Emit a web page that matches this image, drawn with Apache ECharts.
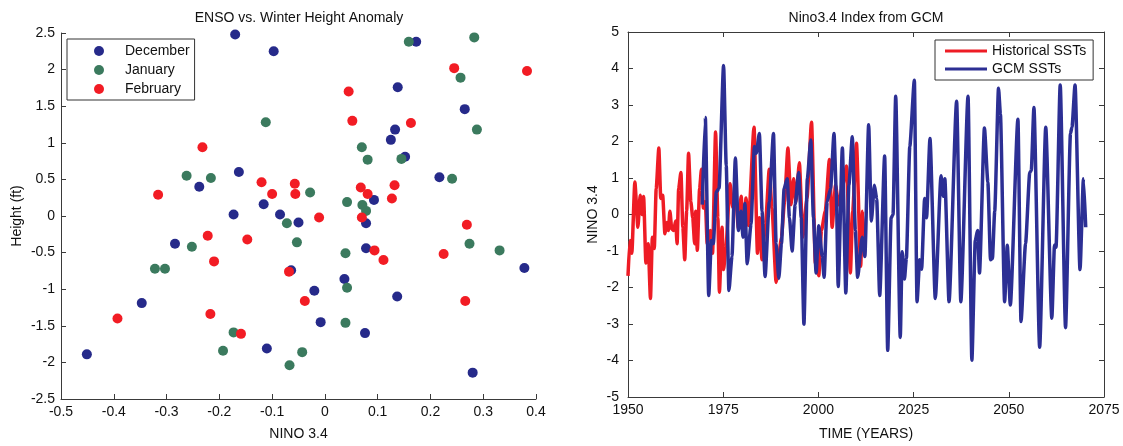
<!DOCTYPE html>
<html>
<head>
<meta charset="utf-8">
<script src="https://cdn.jsdelivr.net/npm/echarts@6/dist/echarts.min.js"></script>
<style>
html,body{margin:0;padding:0;background:#fff;}
#chart{width:1123px;height:446px;}
</style>
</head>
<body>
<div id="chart"></div>
<script>
// ---- Left panel: ENSO vs. winter height anomaly ----
var decX = [-0.17,-0.097,-0.163,-0.238,-0.116,-0.173,-0.085,-0.05,-0.284,-0.064,-0.347,-0.451,-0.11,0.078,0.078,0.378,-0.02,0.037,0.137,-0.008,0.076,0.28,0.173,0.138,0.265,0.133,0.125,0.152,0.217,0.093];
var decY = [2.48,2.25,0.60,0.40,0.16,0.02,0.02,-0.09,-0.38,-0.74,-1.19,-1.89,-1.81,-0.10,-0.44,-0.71,-1.02,-0.86,-1.10,-1.45,-1.60,-2.14,2.38,1.76,1.46,1.18,1.04,0.81,0.53,0.22];
var janX = [-0.112,-0.262,-0.216,-0.028,-0.072,-0.252,-0.053,-0.322,-0.303,-0.173,-0.193,-0.043,-0.067,0.078,0.039,0.274,0.331,0.042,0.039,0.159,0.283,0.257,0.288,0.07,0.081,0.145,0.241,0.042,0.071];
var janY = [1.28,0.55,0.52,0.32,-0.10,-0.42,-0.36,-0.72,-0.72,-1.59,-1.84,-1.86,-2.04,0.07,-0.51,-0.38,-0.47,-0.98,-1.46,2.38,2.44,1.89,1.18,0.94,0.77,0.78,0.51,0.19,0.15];
var febX = [-0.232,-0.316,-0.12,-0.10,-0.057,-0.056,-0.222,-0.147,-0.21,-0.068,-0.393,-0.217,-0.038,-0.159,-0.011,0.07,0.269,0.094,0.111,0.225,0.266,0.245,0.383,0.045,0.052,0.163,0.068,0.132,0.081,0.127];
var febY = [0.94,0.29,0.46,0.30,0.44,0.30,-0.27,-0.32,-0.62,-0.76,-1.40,-1.34,-1.16,-1.61,-0.02,-0.02,-0.12,-0.47,-0.60,-0.52,-1.16,2.02,1.98,1.70,1.30,1.27,0.39,0.42,0.30,0.24];
var monthNames = ['December','January','February'];

// ---- Right panel: Nino3.4 index ----
var histYears = [1950.0,1950.5,1951.0,1951.8,1952.6,1953.2,1953.7,1954.1,1954.7,1955.3,1955.9,1956.4,1956.9,1957.4,1958.1,1958.6,1959.1,1959.7,1960.2,1960.6,1961.0,1961.5,1962.0,1962.5,1962.9,1963.3,1963.9,1964.4,1964.9,1965.4,1965.9,1966.5,1967.0,1967.5,1967.8,1968.2,1968.8,1969.3,1969.8,1970.3,1970.8,1971.6,1972.2,1973.0,1973.6,1974.0,1974.7,1975.1,1975.7,1976.8,1977.5,1978.2,1979.0,1979.7,1980.4,1981.0,1981.6,1983.1,1984.0,1984.5,1985.2,1986.1,1987.1,1987.8,1988.9,1990.3,1991.1,1992.0,1992.8,1993.5,1994.1,1995.0,1995.9,1997.0,1998.2,1999.2,2000.1,2000.8,2001.8,2002.9,2003.6,2004.5,2005.3,2006.4,2007.4,2008.4,2009.0,2010.0,2011.1,2011.6,2012.2];
var histVals = [-1.68,-0.71,-1.06,0.89,-0.35,0.53,0.0,0.49,-1.33,-0.8,-2.30,-0.62,-0.93,0.71,1.82,0.44,0.53,-0.53,-0.22,-0.44,0.09,-0.40,-0.44,-0.18,-0.80,0.71,1.15,-0.35,-1.24,0.09,1.68,0.35,-0.09,-0.80,0.09,-0.98,0.71,1.24,0.18,0.35,-0.80,-0.44,-1.06,2.26,-0.09,-2.13,-0.35,-1.51,-0.9,0.84,0.2,0.6,-0.4,0.5,-0.6,0.45,-0.3,2.39,-1.06,-0.09,-1.24,-0.27,1.24,0.18,-1.86,-0.62,0.35,1.82,0.27,0.98,0.35,1.42,-0.62,0.44,2.53,-1.33,-1.68,-0.44,0.09,1.51,-0.35,0.80,0.27,0.80,1.33,-1.60,0.09,1.95,-1.42,0.09,-0.98];
var gcmYears = [1969.5,1970.3,1971.2,1971.9,1972.4,1973.2,1973.9,1975.1,1975.8,1976.5,1977.3,1978.2,1979.0,1979.7,1980.2,1980.7,1981.3,1982.3,1983.2,1983.7,1984.5,1985.2,1986.0,1987.1,1988.2,1988.9,1989.6,1990.3,1991.0,1991.8,1992.4,1993.1,1993.9,1994.8,1995.5,1996.2,1997.1,1998.0,1998.7,1999.4,2000.1,2001.0,2001.5,2002.3,2003.2,2004.1,2004.7,2005.2,2006.3,2007.2,2008.0,2008.9,2009.7,2010.3,2011.5,2012.2,2013.2,2013.9,2014.7,2015.3,2016.1,2017.4,2018.2,2019.1,2019.6,2020.3,2021.5,2022.0,2022.6,2023.1,2024.0,2025.2,2025.9,2026.6,2027.1,2027.9,2028.4,2029.3,2030.7,2032.2,2032.8,2033.2,2034.3,2036.3,2037.4,2039.3,2040.3,2041.2,2041.8,2042.3,2043.6,2044.5,2045.2,2045.7,2046.3,2047.3,2047.8,2048.9,2049.6,2050.4,2052.4,2053.2,2054.4,2055.5,2055.9,2056.6,2058.1,2059.7,2061.3,2062.0,2062.4,2063.5,2064.9,2066.2,2066.6,2067.4,2068.7,2069.6,2070.2];
var gcmVals = [0.27,2.66,-2.22,-0.71,-0.80,0.62,0.71,4.08,1.33,-2.08,-1.15,1.55,-0.44,0.09,-0.62,0.3,-1.35,-0.27,1.86,1.68,2.22,0.09,-1.70,0.35,2.22,-0.80,-1.75,-0.80,0.71,0.98,-0.09,-1.0,0.27,1.15,-0.09,-3.01,0.98,2.04,-0.09,-1.60,-0.31,-1.15,-1.72,0.35,0.71,2.22,0.62,-1.97,1.82,-2.15,0.80,2.13,-0.44,-1.72,-0.62,-1.15,2.46,-0.18,0.80,0.44,-2.22,1.60,-3.72,-0.09,0.0,3.24,-3.37,-1.02,-1.77,-1.2,1.86,3.68,-2.39,-1.24,-1.5,0.44,-0.09,2.08,-2.30,1.06,0.5,0.98,-2.39,3.10,-2.39,3.24,-3.99,-0.71,-0.44,-1.60,2.37,0.89,-1.24,-1.2,0.09,3.46,2.75,-2.39,-0.84,-2.48,2.61,-2.93,-0.80,1.15,1.2,2.93,-3.64,2.39,-2.84,-0.84,-0.9,3.55,-3.10,2.22,2.4,3.55,-1.51,0.98,-0.35];
var lineNames = ['Historical SSTs','GCM SSTs'];

function zip(a, b) { return a.map(function (v, i) { return [v, b[i]]; }); }

var FONT = '"Liberation Sans", Arial, Helvetica, sans-serif';
var AX = '#3a3a3a';
function fmt1(v) { return String(Math.round(v * 10) / 10); }
function fmtInt(v) { return String(Math.round(v)); }

function baseAxis(extra) {
  var o = {
    type: 'value',
    axisLine: { show: true, onZero: false, lineStyle: { color: AX, width: 1 } },
    axisTick: { show: true, inside: true, length: 5, lineStyle: { color: AX } },
    axisLabel: { show: true, color: '#111', fontSize: 14, fontFamily: FONT, margin: 6 },
    splitLine: { show: false },
    nameTextStyle: { color: '#111', fontSize: 14, fontFamily: FONT },
    nameLocation: 'middle'
  };
  for (var k in extra) o[k] = extra[k];
  return o;
}
function lbl(fmt, margin) {
  return { show: true, color: '#111', fontSize: 14, fontFamily: FONT, margin: margin, formatter: fmt };
}

var chart = echarts.init(document.getElementById('chart'), null, { renderer: 'canvas' });
chart.setOption({
  backgroundColor: '#fff',
  animation: false,
  textStyle: { fontFamily: FONT },
  title: [
    { text: 'ENSO vs. Winter Height Anomaly', left: 294, top: 6, textAlign: 'center',
      textStyle: { fontSize: 14, fontWeight: 'normal', color: '#111', fontFamily: FONT } },
    { text: 'Nino3.4 Index from GCM', left: 861, top: 6, textAlign: 'center',
      textStyle: { fontSize: 14, fontWeight: 'normal', color: '#111', fontFamily: FONT } }
  ],
  grid: [
    { left: 61, top: 33, width: 475, height: 375 },
    { left: 628, top: 32, width: 476, height: 376, show: false }
  ],
  legend: [
    { data: monthNames, orient: 'vertical', left: 67, top: 39, icon: 'circle',
      itemWidth: 10, itemHeight: 10, itemGap: 5, padding: [5, 5, 4, 27],
      borderColor: '#333', borderWidth: 1, backgroundColor: '#fff',
      textStyle: { fontSize: 14, color: '#111', fontFamily: FONT, padding: [0, 0, 0, 16] } },
    { data: lineNames, orient: 'vertical', left: 935, top: 40, icon: 'rect',
      itemWidth: 42, itemHeight: 3, itemGap: 4, padding: [4, 7, 4, 10],
      borderColor: '#333', borderWidth: 1, backgroundColor: '#fff',
      textStyle: { fontSize: 14, color: '#111', fontFamily: FONT } }
  ],
  xAxis: [
    baseAxis({ gridIndex: 0, min: -0.5, max: 0.4, interval: 0.1, name: 'NINO 3.4', nameGap: 28,
      axisLabel: lbl(fmt1, 6) }),
    baseAxis({ gridIndex: 1, min: 1950, max: 2075, interval: 25, name: 'TIME (YEARS)', nameGap: 30,
      axisLabel: lbl(fmtInt, 6) }),
    baseAxis({ gridIndex: 1, min: 1950, max: 2075, interval: 25, position: 'top', axisLabel: { show: false } })
  ],
  yAxis: [
    baseAxis({ gridIndex: 0, min: -2.5, max: 2.5, interval: 0.5, name: 'Height (ft)', nameGap: 37,
      axisLabel: lbl(fmt1, 6) }),
    baseAxis({ gridIndex: 1, min: -5, max: 5, interval: 1, name: 'NINO 3.4', nameGap: 28,
      axisLabel: lbl(fmtInt, 9) }),
    baseAxis({ gridIndex: 1, min: -5, max: 5, interval: 1, position: 'right', axisLabel: { show: false } })
  ],
  series: [
    { name: monthNames[0], type: 'scatter', xAxisIndex: 0, yAxisIndex: 0, symbolSize: 10,
      color: '#262a8a', itemStyle: { opacity: 1 }, data: zip(decX, decY) },
    { name: monthNames[1], type: 'scatter', xAxisIndex: 0, yAxisIndex: 0, symbolSize: 10,
      color: '#3b7a5e', itemStyle: { opacity: 1 }, data: zip(janX, janY) },
    { name: monthNames[2], type: 'scatter', xAxisIndex: 0, yAxisIndex: 0, symbolSize: 10,
      color: '#f21c24', itemStyle: { opacity: 1 }, data: zip(febX, febY) },
    { name: lineNames[0], type: 'line', xAxisIndex: 1, yAxisIndex: 1, showSymbol: false,
      smooth: 0.2, smoothMonotone: 'x',
      color: '#ee1c25', lineStyle: { width: 3.5, color: '#ee1c25', join: 'round' }, data: zip(histYears, histVals) },
    { name: lineNames[1], type: 'line', xAxisIndex: 1, yAxisIndex: 1, showSymbol: false,
      smooth: 0.2, smoothMonotone: 'x',
      color: '#2c2f94', lineStyle: { width: 3.5, color: '#2c2f94', join: 'round' }, data: zip(gcmYears, gcmVals) }
  ]
});
</script>
</body>
</html>
